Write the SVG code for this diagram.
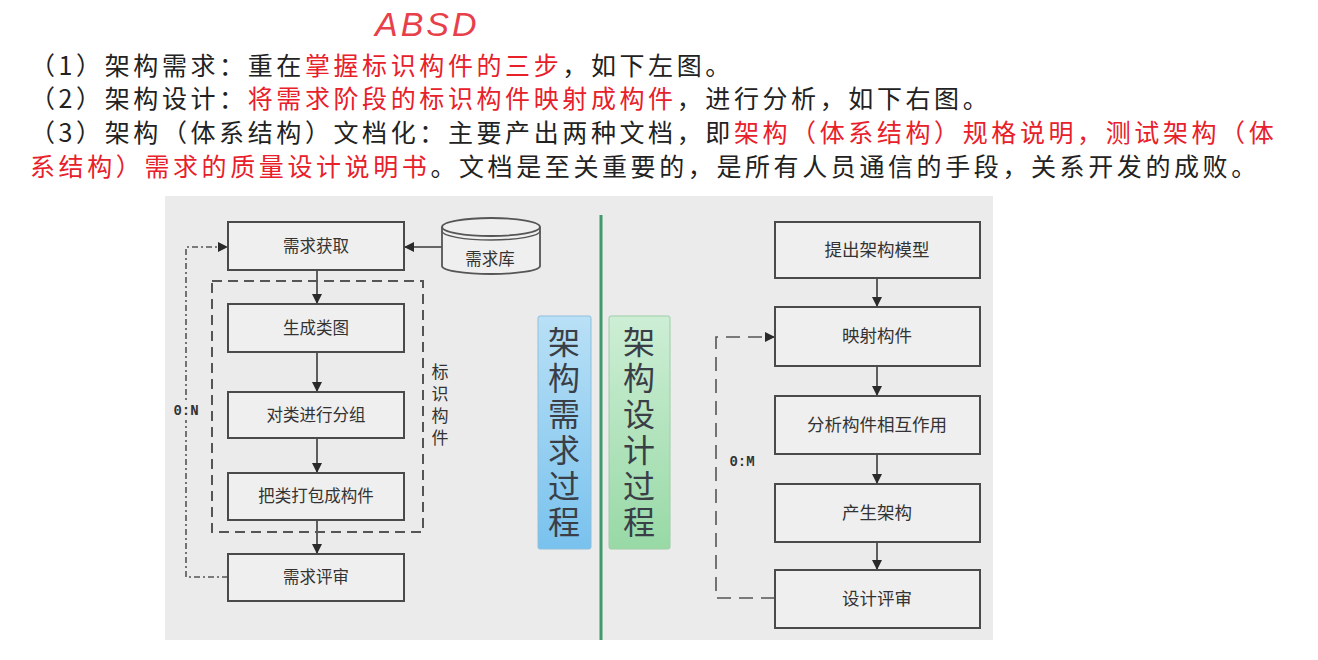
<svg xmlns="http://www.w3.org/2000/svg" width="1318" height="660" viewBox="0 0 1318 660">
<style>
.hd{font-family:"Noto Sans CJK SC","Noto Sans",sans-serif;font-size:25px;letter-spacing:3.6px;fill:#222}
.red{fill:#e8202a}
.box{fill:#efefef;stroke:#4a4a4a;stroke-width:2}
.lbl{font-family:"Noto Sans CJK SC","Noto Sans",sans-serif;font-size:16.5px;fill:#333;text-anchor:middle}
.lblr{font-family:"Noto Sans CJK SC","Noto Sans",sans-serif;font-size:17.5px;fill:#333;text-anchor:middle}
.vt{font-family:"Noto Sans CJK SC","Noto Sans",sans-serif;font-size:32px;letter-spacing:4px;fill:#3a3f47;writing-mode:vertical-rl}
.vs{font-family:"Noto Sans CJK SC","Noto Sans",sans-serif;font-size:17px;letter-spacing:5px;fill:#333;writing-mode:vertical-rl}
.mono{font-family:"Liberation Mono","DejaVu Sans Mono",monospace;font-size:14px;font-weight:bold;fill:#333;text-anchor:middle}
.flow{fill:none;stroke:#3a3a3a;stroke-width:1.6}
.dd{fill:none;stroke:#555;stroke-width:1.6;stroke-dasharray:6 3 2 3}
.dl{fill:none;stroke:#555;stroke-width:1.6;stroke-dasharray:14 8}
</style>
<defs>
<marker id="ah" markerWidth="10" markerHeight="10" refX="9" refY="5" orient="auto" markerUnits="userSpaceOnUse">
<path d="M0,0 L10,5 L0,10 z" fill="#2a2a2a"/>
</marker>
<linearGradient id="gb" x1="0" y1="0" x2="0" y2="1">
<stop offset="0" stop-color="#b9e0f6"/><stop offset="1" stop-color="#79c2ee"/>
</linearGradient>
<linearGradient id="gg" x1="0" y1="0" x2="0" y2="1">
<stop offset="0" stop-color="#cdeed5"/><stop offset="1" stop-color="#98d9a6"/>
</linearGradient>
</defs>
<rect x="0" y="0" width="1318" height="660" fill="#ffffff"/>
<g id="header">
<text x="375" y="36" font-family="'Liberation Sans',sans-serif" font-size="34" font-style="italic" fill="#e8404a" letter-spacing="3">ABSD</text>
<text class="hd" x="30" y="75">（1）架构需求：重在<tspan class="red">掌握标识构件的三步</tspan>，如下左图。</text>
<text class="hd" x="30" y="108">（2）架构设计：<tspan class="red">将需求阶段的标识构件映射成构件</tspan>，进行分析，如下右图。</text>
<text class="hd" x="30" y="142">（3）架构（体系结构）文档化：主要产出两种文档，即<tspan class="red">架构（体系结构）规格说明，测试架构（体</tspan></text>
<text class="hd" x="30" y="176"><tspan class="red">系结构）需求的质量设计说明书</tspan>。文档是至关重要的，是所有人员通信的手段，关系开发的成败。</text>
</g>
<rect id="panel" x="165" y="196" width="828" height="444" fill="#ebebeb"/>
<g id="connectors">
<path class="flow" d="M317,270 V303" marker-end="url(#ah)"/>
<path class="flow" d="M317,352 V391" marker-end="url(#ah)"/>
<path class="flow" d="M317,438 V472" marker-end="url(#ah)"/>
<path class="flow" d="M317,520 V553" marker-end="url(#ah)"/>
<path class="flow" d="M442,247 H405" marker-end="url(#ah)"/>
<path class="dd" d="M228,577 H186 V247 H227" marker-end="url(#ah)"/>
<path class="flow" d="M877,278 V306" marker-end="url(#ah)"/>
<path class="flow" d="M877,366 V395" marker-end="url(#ah)"/>
<path class="flow" d="M877,454 V483" marker-end="url(#ah)"/>
<path class="flow" d="M877,542 V569" marker-end="url(#ah)"/>
<path class="dl" d="M775,598 H716 V337 H774" marker-end="url(#ah)"/>
<rect x="172" y="400" width="28" height="20" fill="#ebebeb"/>
<text class="mono" x="186" y="415">0:N</text>
<text class="mono" x="742" y="466">0:M</text>
</g>
<g id="group-identify">
<rect x="212" y="281" width="211" height="251" fill="none" stroke="#555" stroke-width="2" stroke-dasharray="10 6"/>
<text class="vs" x="440" y="363">标识构件</text>
</g>
<g id="n-req-get"><rect class="box" x="228" y="222" width="176" height="48"/><text class="lbl" x="316" y="252">需求获取</text></g>
<g id="n-req-db">
<path d="M442,227 V266 A49,8 0 0 0 540,266 V227" fill="#efefef" stroke="#555" stroke-width="1.8"/>
<ellipse cx="491" cy="227" rx="49" ry="9" fill="#efefef" stroke="#555" stroke-width="1.8"/>
<path d="M442,231 A49,9 0 0 0 540,231" fill="none" stroke="#555" stroke-width="1.4"/>
<text class="lbl" x="490" y="265">需求库</text>
</g>
<g id="n-class-diagram"><rect class="box" x="228" y="304" width="176" height="48"/><text class="lbl" x="316" y="334">生成类图</text></g>
<g id="n-group-class"><rect class="box" x="228" y="392" width="176" height="46"/><text class="lbl" x="316" y="421">对类进行分组</text></g>
<g id="n-pack"><rect class="box" x="228" y="473" width="176" height="47"/><text class="lbl" x="316" y="502">把类打包成构件</text></g>
<g id="n-req-review"><rect class="box" x="228" y="554" width="176" height="47"/><text class="lbl" x="316" y="583">需求评审</text></g>
<g id="n-req-process">
<rect x="538" y="316" width="53" height="233" rx="2" fill="url(#gb)" stroke="#8fbfdc" stroke-width="1"/>
<text class="vt" x="564" y="326">架构需求过程</text>
</g>
<line id="divider" x1="601" y1="215" x2="601" y2="640" stroke="#3f9a6a" stroke-width="3"/>
<g id="n-design-process">
<rect x="609" y="316" width="61" height="233" rx="2" fill="url(#gg)" stroke="#9ccfa8" stroke-width="1"/>
<text class="vt" x="639" y="326">架构设计过程</text>
</g>
<g id="n-propose"><rect class="box" x="775" y="222" width="205" height="56"/><text class="lblr" x="877" y="256">提出架构模型</text></g>
<g id="n-map"><rect class="box" x="775" y="307" width="205" height="59"/><text class="lblr" x="877" y="342">映射构件</text></g>
<g id="n-analyze"><rect class="box" x="775" y="396" width="205" height="58"/><text class="lblr" x="877" y="431">分析构件相互作用</text></g>
<g id="n-produce"><rect class="box" x="775" y="484" width="205" height="58"/><text class="lblr" x="877" y="519">产生架构</text></g>
<g id="n-design-review"><rect class="box" x="775" y="570" width="205" height="58"/><text class="lblr" x="877" y="605">设计评审</text></g>
</svg>
